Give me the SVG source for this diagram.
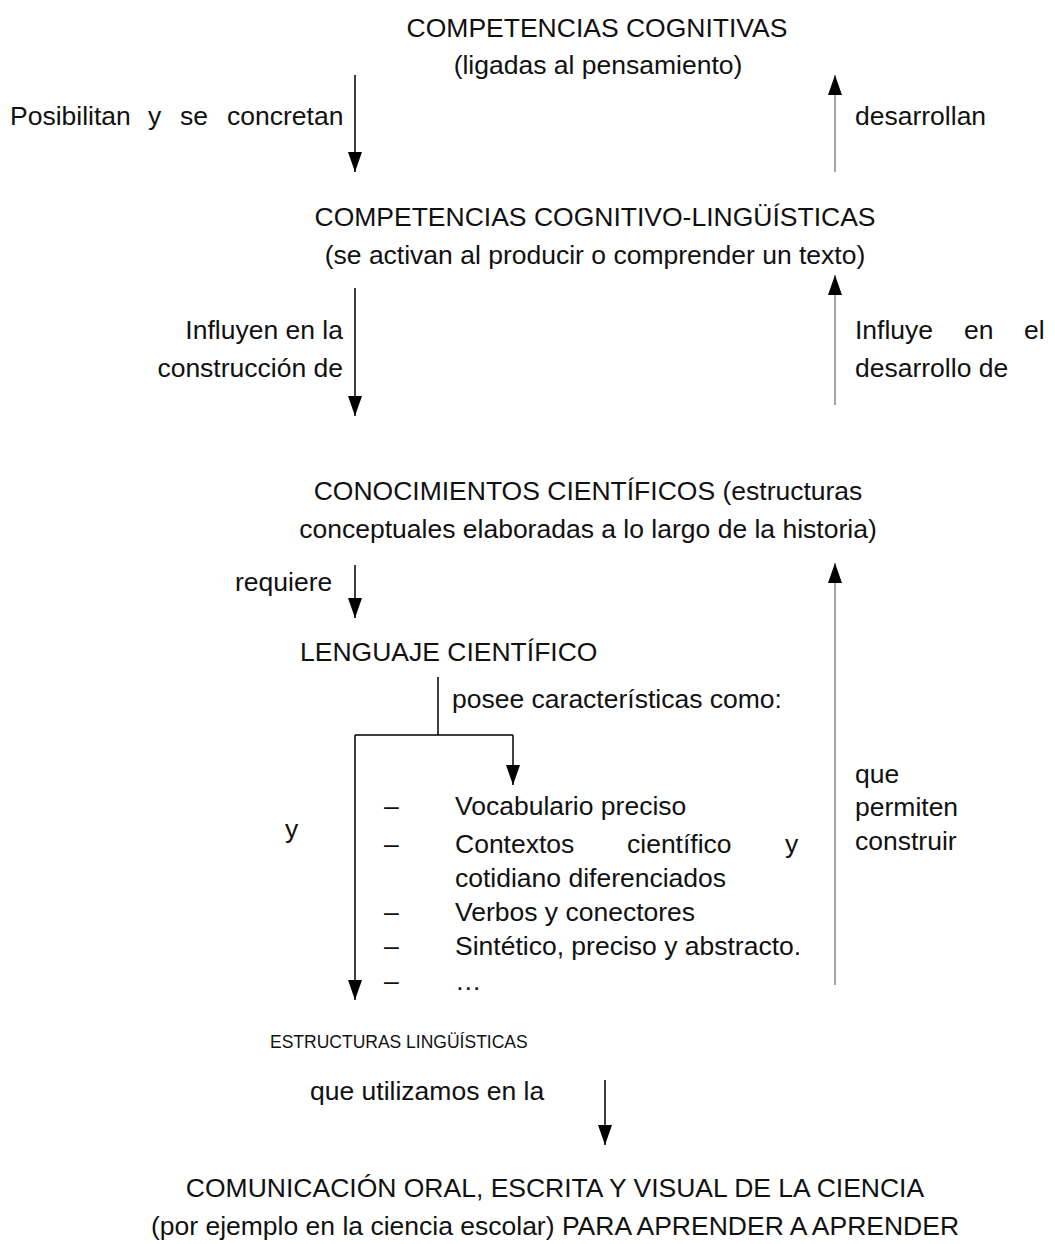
<svg xmlns="http://www.w3.org/2000/svg" width="1055" height="1244" viewBox="0 0 1055 1244">
<style>
text{font-family:"Liberation Sans",Arial,sans-serif;font-size:26.5px;fill:#111}
.c{text-anchor:middle}
.e{text-anchor:end}
.sm{font-size:17.5px}
.dn{stroke:#000;stroke-width:1.5;fill:none}
.up{stroke:#888;stroke-width:1.5;fill:none}
</style>
<defs>
<marker id="ah" viewBox="0 0 20 14" refX="20" refY="7" markerWidth="20" markerHeight="14" markerUnits="userSpaceOnUse" orient="auto">
<path d="M0,0 L20,7 L0,14 z" fill="#000"/>
</marker>
</defs>
<g id="connectors">
<line class="dn" x1="355" y1="75" x2="355" y2="172" marker-end="url(#ah)"/>
<line class="up" x1="835" y1="172" x2="835" y2="75" marker-end="url(#ah)"/>
<line class="dn" x1="355" y1="288" x2="355" y2="416" marker-end="url(#ah)"/>
<line class="up" x1="835" y1="405" x2="835" y2="275" marker-end="url(#ah)"/>
<line class="dn" x1="355" y1="565" x2="355" y2="618" marker-end="url(#ah)"/>
<line class="up" x1="835" y1="985" x2="835" y2="563" marker-end="url(#ah)"/>
<path class="dn" d="M438,677 V735 M355,735 H513"/>
<line class="dn" x1="513" y1="735" x2="513" y2="785" marker-end="url(#ah)"/>
<line class="dn" x1="355" y1="735" x2="355" y2="1000" marker-end="url(#ah)"/>
<line class="dn" x1="605" y1="1080" x2="605" y2="1145" marker-end="url(#ah)"/>
</g>
<g id="competencias-cognitivas">
<text class="c" x="597" y="37">COMPETENCIAS COGNITIVAS</text>
<text class="c" x="598" y="74">(ligadas al pensamiento)</text>
</g>
<g id="label-posibilitan">
<text x="10" y="125">Posibilitan</text>
<text x="148" y="125">y</text>
<text x="180" y="125">se</text>
<text x="227" y="125">concretan</text>
</g>
<g id="label-desarrollan"><text x="855" y="125">desarrollan</text></g>
<g id="competencias-cognitivo-linguisticas">
<text class="c" x="595" y="226">COMPETENCIAS COGNITIVO-LINGÜÍSTICAS</text>
<text class="c" x="595" y="264">(se activan al producir o comprender un texto)</text>
</g>
<g id="label-influyen">
<text class="e" x="343" y="339">Influyen en la</text>
<text class="e" x="343" y="377">construcción de</text>
</g>
<g id="label-influye">
<text x="855" y="339">Influye</text>
<text x="964" y="339">en</text>
<text x="1024" y="339">el</text>
<text x="855" y="377">desarrollo de</text>
</g>
<g id="conocimientos">
<text class="c" x="588" y="500">CONOCIMIENTOS CIENTÍFICOS (estructuras</text>
<text class="c" x="588" y="538">conceptuales elaboradas a lo largo de la historia)</text>
</g>
<g id="label-requiere"><text x="235" y="591">requiere</text></g>
<g id="lenguaje"><text x="300" y="661">LENGUAJE CIENTÍFICO</text></g>
<g id="label-posee"><text x="452" y="708">posee características como:</text></g>
<g id="caracteristicas">
<text x="384" y="815">–</text><text x="455" y="815">Vocabulario preciso</text>
<text x="384" y="853">–</text><text x="455" y="853">Contextos</text><text x="627" y="853">científico</text><text x="785" y="853">y</text>
<text x="455" y="887">cotidiano diferenciados</text>
<text x="384" y="921">–</text><text x="455" y="921">Verbos y conectores</text>
<text x="384" y="955">–</text><text x="455" y="955">Sintético, preciso y abstracto.</text>
<text x="384" y="990">–</text><text x="455" y="990">…</text>
</g>
<g id="label-y"><text x="285" y="838">y</text></g>
<g id="label-permiten">
<text x="855" y="783">que</text>
<text x="855" y="816">permiten</text>
<text x="855" y="850">construir</text>
</g>
<g id="estructuras"><text class="sm" x="270" y="1048">ESTRUCTURAS LINGÜÍSTICAS</text></g>
<g id="label-utilizamos"><text x="310" y="1100">que utilizamos en la</text></g>
<g id="comunicacion">
<text class="c" x="555" y="1197">COMUNICACIÓN ORAL, ESCRITA Y VISUAL DE LA CIENCIA</text>
<text class="c" x="555" y="1235">(por ejemplo en la ciencia escolar) PARA APRENDER A APRENDER</text>
</g>
</svg>
